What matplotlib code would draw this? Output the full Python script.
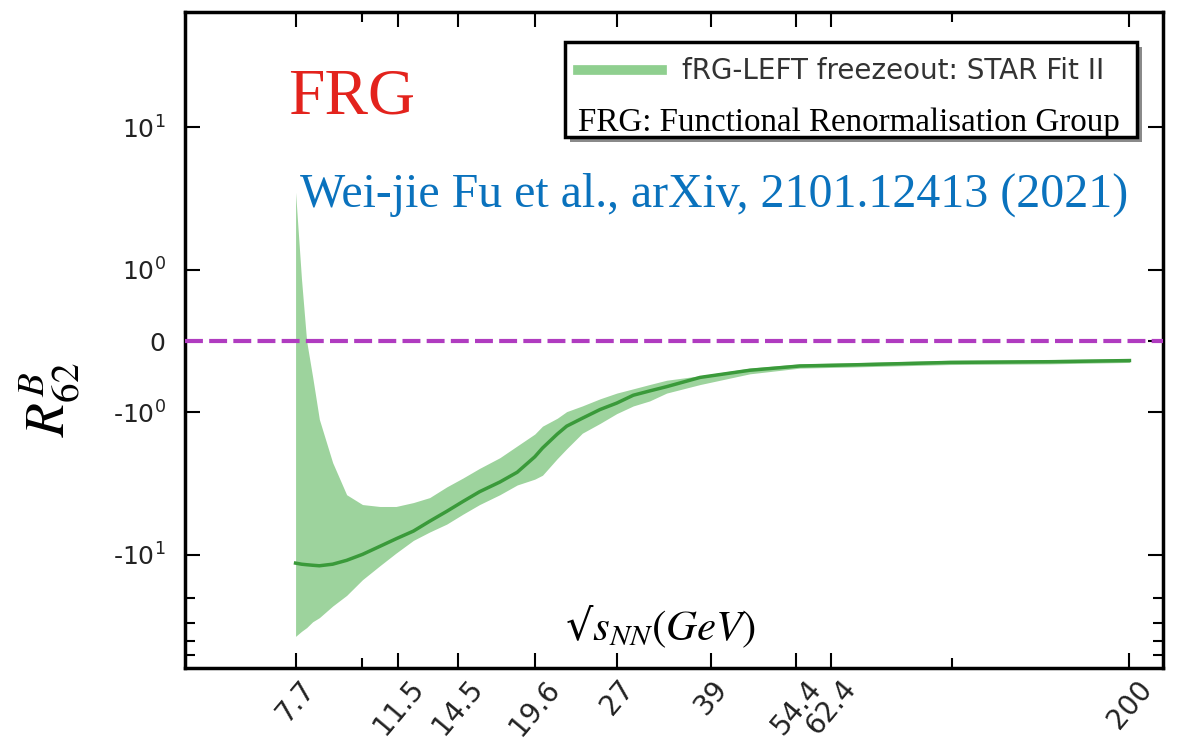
import matplotlib
matplotlib.use("Agg")
import matplotlib.pyplot as plt
from matplotlib.lines import Line2D
from matplotlib.patches import Rectangle
from matplotlib.ticker import FixedLocator, NullFormatter

# collision energies (GeV) and R62 band
sqrt_s = [7.7, 7.88, 8.04, 8.23, 8.45, 8.9, 9.4, 10.0, 10.7, 11.4, 12.2, 13.0,
          13.9, 14.8, 15.8, 17.1, 18.3, 19.6, 20.2, 21.4, 22.2, 23.6, 25.3, 27.0,
          28.8, 30.7, 32.8, 37.4, 45.4, 55.2, 67.2, 99.3, 146.8, 200.0]
r62_mid = [-11.4, -11.6, -11.7, -11.8, -11.9, -11.6, -10.9, -9.9, -8.7, -7.7, -6.8, -5.8,
           -4.94, -4.22, -3.6, -3.08, -2.63, -2.05, -1.78, -1.42, -1.25, -1.10, -0.96, -0.87,
           -0.76, -0.70, -0.64, -0.51, -0.41, -0.35, -0.335, -0.30, -0.29, -0.274]
r62_hi = [3.49, 0.87, 0.0, -0.50, -1.12, -2.25, -3.78, -4.43, -4.57, -4.57, -4.29, -3.96,
          -3.33, -2.89, -2.47, -2.08, -1.72, -1.42, -1.25, -1.10, -0.99, -0.91, -0.81, -0.73,
          -0.67, -0.61, -0.55, -0.487, -0.38, -0.32, -0.305, -0.27, -0.26, -0.245]
r62_lo = [-37.2, -34.3, -32.3, -29.4, -27.5, -22.8, -19.2, -14.9, -11.9, -9.7, -7.9, -6.9,
          -6.07, -5.18, -4.43, -3.78, -3.23, -2.94, -2.76, -2.11, -1.80, -1.40, -1.195, -1.02,
          -0.91, -0.84, -0.73, -0.61, -0.46, -0.38, -0.365, -0.33, -0.32, -0.30]

xticks = [7.7, 11.5, 14.5, 19.6, 27, 39, 54.4, 62.4, 200]
xticklabels = ["7.7", "11.5", "14.5", "19.6", "27", "39", "54.4", "62.4", "200"]
yticks = [10, 1, 0, -1, -10]
yticklabels = ["$10^{1}$", "$10^{0}$", "0", "-$10^{0}$", "-$10^{1}$"]

fig = plt.figure(figsize=(11.77, 7.43), dpi=100)
ax = fig.add_axes([0.1572, 0.1009, 0.8309, 0.8829])

band_col = "#9dd39d"
line_col = "#3a9a3a"
ax.fill_between(sqrt_s, r62_lo, r62_hi, color=band_col, lw=0, zorder=2)
ax.plot(sqrt_s, r62_mid, color=line_col, lw=2.5, zorder=3)
ax.axhline(0, color="#b03cc0", lw=3, ls=(0, (4.3, 1.5)), zorder=4)

ax.set_xscale("log")
ax.set_xlim(5.0, 228)
ax.set_xticks(xticks)
ax.set_xticklabels(xticklabels, rotation=50, fontsize=20, color="#222222")
ax.xaxis.set_minor_locator(FixedLocator([10, 100]))
ax.xaxis.set_minor_formatter(NullFormatter())

ax.set_yscale("symlog", linthresh=1, linscale=0.45)
ax.set_ylim(-62, 64)
ax.set_yticks(yticks)
ax.set_yticklabels(yticklabels, fontsize=18, color="#222222")
ax.yaxis.set_minor_locator(FixedLocator([-20, -30, -40, -50]))
ax.yaxis.set_minor_formatter(NullFormatter())

ax.tick_params(which="both", direction="in", top=True, right=True, width=1.5)
ax.tick_params(which="major", length=11)
ax.tick_params(which="minor", length=7)
ax.tick_params(axis="y", pad=14)
ax.tick_params(axis="x", pad=5)
for s in ax.spines.values():
    s.set_linewidth(2.5)

# y label and in-axes x label
fig.text(0.043, 0.462, r"$R^{B}_{62}$", rotation=90, fontsize=40,
         math_fontfamily="stix", ha="center", va="center")
ax.text(0.486, 0.0625, "√" + r"$s_{NN}(GeV)$", transform=ax.transAxes,
        fontsize=31, math_fontfamily="stix", family="DejaVu Serif",
        ha="center", va="center")

# legend box with shadow
sx, sy = 5 / 978, 5 / 656
ax.add_patch(Rectangle((0.3885 + sx, 0.8095 - sy), 0.585, 0.1445, transform=ax.transAxes,
                       facecolor="#8a8a8a", edgecolor="none", zorder=5))
ax.add_patch(Rectangle((0.3885, 0.8095), 0.585, 0.1445, transform=ax.transAxes,
                       facecolor="white", edgecolor="black", lw=2.5, zorder=6))
handle = Line2D([], [], color="#8fcf8f", lw=7)
leg = ax.legend([handle], ["fRG-LEFT freezeout: STAR Fit II"], loc="upper left",
                bbox_to_anchor=(0.402, 0.931), frameon=False, borderpad=0,
                borderaxespad=0, handlelength=3.0, handletextpad=0.75, fontsize=20)
leg.set_zorder(7)
for t in leg.get_texts():
    t.set_color("#333333")
ax.text(0.402, 0.819, "FRG: Functional Renormalisation Group", transform=ax.transAxes,
        family="Liberation Serif", fontsize=23.8, color="black", ha="left", va="baseline",
        zorder=8)

# annotations
ax.text(0.105, 0.846, "FRG", transform=ax.transAxes, family="Liberation Serif",
        fontsize=47, color="#e3231d", ha="left", va="baseline")
ax.text(0.118, 0.704, "Wei-jie Fu et al., arXiv, 2101.12413 (2021)", transform=ax.transAxes,
        family="Liberation Serif", fontsize=34.5, color="#0a72bd", ha="left", va="baseline")

fig.savefig("out.png", dpi=100)
